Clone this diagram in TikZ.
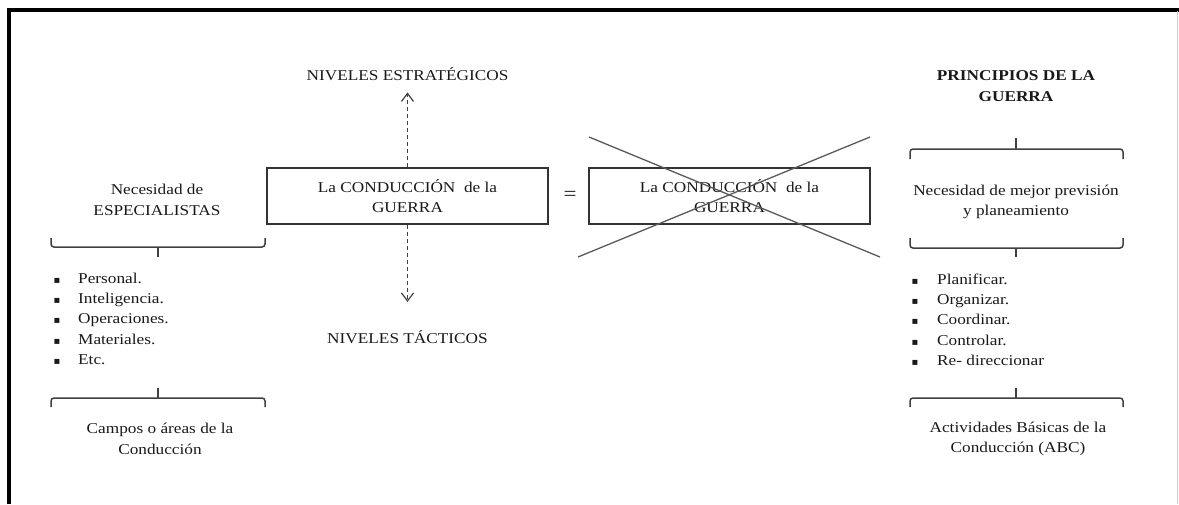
\documentclass[tikz,border=0pt]{standalone}
\usepackage{fontspec}
\setmainfont{Liberation Serif}[FakeStretch=1.15]
\newfontfamily\bulletfont{DejaVu Sans}
\usepackage{tikz}
\usetikzlibrary{positioning,arrows.meta}

\tikzset{
  txt/.style={align=center, font=\fontsize{15}{20.5}\selectfont, text=black!90, inner sep=0pt},
  condbox/.style={txt, draw=black!80, line width=1.4pt, minimum width=281pt, minimum height=56pt},
  levelarrow/.style={draw=black!75, line width=1.2pt, dash pattern=on 4pt off 3pt,
    -{Straight Barb[length=8pt,width=12pt]}},
  brace/.style={draw=black!75, line width=1.5pt, rounded corners=3pt},
  cross/.style={draw=black!65, line width=1.3pt},
}

\begin{document}
\begin{tikzpicture}[x=1pt, y=-1pt]
\useasboundingbox (0,0) rectangle (1179,504);
% marco
\draw[line width=4pt] (8.5,504) -- (8.5,9.5) -- (1179,9.5);
\draw[black!20, line width=1pt] (1177.5,11) -- (1177.5,504);

% centro
\node[condbox] (cond) at (407.5,196) {La CONDUCCIÓN \ de la\\GUERRA};
\node[txt, anchor=base] (estrat) at (407.5,80) {NIVELES ESTRATÉGICOS};
\node[txt, anchor=base] (tact) at (407.5,343) {NIVELES TÁCTICOS};
\draw[levelarrow] (cond.north) -- (estrat.south) [shorten >=12pt];
\draw[levelarrow] (cond.south) -- (tact.north) [shorten >=28pt];
\node[txt, font=\fontsize{20}{20}\selectfont] (igual) at (570,196) {=};
\node[condbox] (cond2) at (729.5,196) {La CONDUCCIÓN \ de la\\GUERRA};
\draw[cross] (589,137) -- (880,257);
\draw[cross] (578,257) -- (870,137);

% izquierda
\node[txt] (necesidad) at (157,200) {Necesidad de\\ESPECIALISTAS};
\draw[brace] (51,238) -- (51,247) -- (265,247) -- (265,238);
\draw[brace] (158,247) -- (158,257);
\foreach \campo [count=\i from 0] in {Personal., Inteligencia., Operaciones., Materiales., Etc.}{
    \node[txt, anchor=base] (bizq\i) at (57,283+20.4*\i) {\bulletfont\fontsize{10}{10}\selectfont ▪};
    \node[txt, anchor=base west] (izq\i) at (78,283+20.4*\i) {\campo};
}
\draw[brace] (51,407) -- (51,398) -- (265,398) -- (265,407);
\draw[brace] (158,398) -- (158,388);
\node[txt] (campos) at (160,439) {Campos o áreas de la\\Conducción};

% derecha
\node[txt, font=\fontsize{15}{20.5}\selectfont\bfseries] (principios) at (1016,86) {PRINCIPIOS DE LA\\GUERRA};
\draw[brace] (910,159) -- (910,149) -- (1123,149) -- (1123,159);
\draw[brace] (1016,149) -- (1016,138);
\node[txt] (prevision) at (1016,202) {Necesidad de mejor previsión\\y planeamiento};
\draw[brace] (910,238) -- (910,248) -- (1123,248) -- (1123,238);
\draw[brace] (1016,248) -- (1016,257);
\foreach \accion [count=\i from 0] in {Planificar., Organizar., Coordinar., Controlar., Re- direccionar}{
    \node[txt, anchor=base] (bder\i) at (915,284+20.4*\i) {\bulletfont\fontsize{10}{10}\selectfont ▪};
    \node[txt, anchor=base west] (der\i) at (937,284+20.4*\i) {\accion};
}
\draw[brace] (910,407) -- (910,398) -- (1123,398) -- (1123,407);
\draw[brace] (1016,398) -- (1016,388);
\node[txt] (abc) at (1018,439) {Actividades Básicas de la\\Conducción (ABC)};
\end{tikzpicture}
\end{document}
